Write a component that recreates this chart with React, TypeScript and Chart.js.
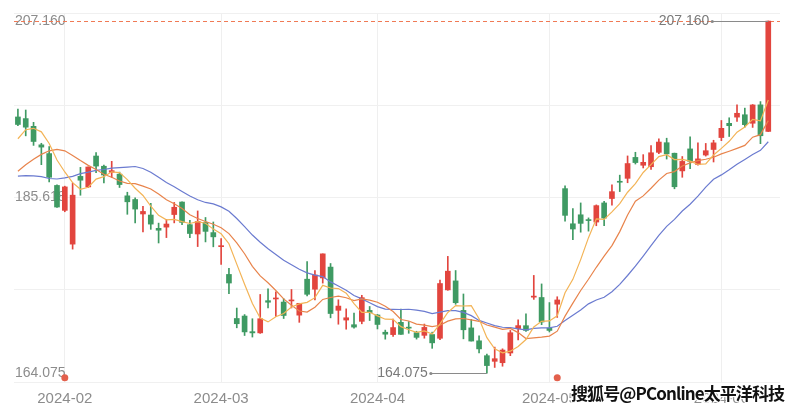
import React, { useEffect, useRef } from 'react';
import { Chart, registerables } from 'chart.js';

Chart.register(...registerables);

// ---- data (daily candles) ----
const dates = [
  '2024-01-24', '2024-01-25', '2024-01-26', '2024-01-29', '2024-01-30', '2024-01-31',
  '2024-02-01', '2024-02-02', '2024-02-05', '2024-02-06', '2024-02-07', '2024-02-08', '2024-02-09',
  '2024-02-12', '2024-02-13', '2024-02-14', '2024-02-15', '2024-02-16', '2024-02-20', '2024-02-21',
  '2024-02-22', '2024-02-23', '2024-02-26', '2024-02-27', '2024-02-28', '2024-02-29',
  '2024-03-01', '2024-03-04', '2024-03-05', '2024-03-06', '2024-03-07', '2024-03-08', '2024-03-11',
  '2024-03-12', '2024-03-13', '2024-03-14', '2024-03-15', '2024-03-18', '2024-03-19', '2024-03-20',
  '2024-03-21', '2024-03-22', '2024-03-25', '2024-03-26', '2024-03-27', '2024-03-28',
  '2024-04-01', '2024-04-02', '2024-04-03', '2024-04-04', '2024-04-05', '2024-04-08', '2024-04-09',
  '2024-04-10', '2024-04-11', '2024-04-12', '2024-04-15', '2024-04-16', '2024-04-17', '2024-04-18',
  '2024-04-19', '2024-04-22', '2024-04-23', '2024-04-24', '2024-04-25', '2024-04-26', '2024-04-29',
  '2024-04-30',
  '2024-05-01', '2024-05-02', '2024-05-03', '2024-05-06', '2024-05-07', '2024-05-08', '2024-05-09',
  '2024-05-10', '2024-05-13', '2024-05-14', '2024-05-15', '2024-05-16', '2024-05-17', '2024-05-20',
  '2024-05-21', '2024-05-22', '2024-05-23', '2024-05-24', '2024-05-28', '2024-05-29', '2024-05-30',
  '2024-05-31',
  '2024-06-03', '2024-06-04', '2024-06-05', '2024-06-06', '2024-06-07', '2024-06-10', '2024-06-11',
];

const opens = [
  195.42, 195.22, 194.27, 192.01, 190.94, 187.04,
  183.99, 179.86, 188.15, 186.86, 190.64, 189.39, 188.65,
  188.42, 185.77, 185.32, 183.55, 183.42, 181.79, 181.94,
  183.48, 185.01, 182.24, 181.10, 182.51, 181.27,
  179.55, 176.15, 170.76, 171.06, 169.15, 169.00, 172.94,
  173.15, 172.77, 172.91, 171.17, 175.57, 174.34, 175.72,
  177.05, 171.76, 170.57, 170.00, 170.41, 171.75,
  171.19, 169.08, 168.79, 170.29, 169.59, 169.03, 168.70,
  168.80, 168.34, 174.26, 175.36, 171.75, 169.61, 168.03,
  166.21, 165.52, 165.35, 166.54, 169.53, 169.88, 173.37,
  173.33,
  169.58, 172.51, 186.65, 182.35, 183.45, 182.85, 182.56,
  184.90, 185.44, 187.51, 187.91, 190.47, 189.51, 189.33,
  191.09, 192.27, 190.98, 188.82, 191.51, 189.61, 190.76,
  191.44,
  192.90, 194.64, 195.40, 195.69, 194.65, 196.90, 193.65,
];

const highs = [
  196.38, 196.27, 194.76, 192.20, 191.80, 187.10,
  186.95, 187.33, 189.25, 189.31, 191.05, 189.54, 189.99,
  188.67, 186.21, 185.53, 184.49, 184.85, 182.43, 182.89,
  184.96, 185.04, 182.76, 183.92, 183.12, 182.57,
  180.53, 176.90, 172.04, 171.24, 170.73, 173.70, 174.38,
  174.03, 173.19, 174.31, 172.62, 177.71, 176.61, 178.67,
  177.49, 173.05, 171.94, 171.42, 173.60, 172.23,
  171.25, 169.34, 170.68, 171.92, 170.39, 169.20, 170.08,
  169.09, 175.46, 178.36, 176.63, 173.76, 170.65, 168.64,
  166.40, 167.26, 167.05, 169.30, 170.61, 171.34, 176.03,
  174.99,
  172.71, 173.42, 187.00, 184.20, 184.90, 183.07, 184.66,
  185.09, 187.10, 188.30, 190.65, 191.10, 190.81, 191.92,
  192.73, 192.82, 191.00, 190.58, 193.00, 192.25, 192.18,
  192.57,
  194.99, 195.32, 196.90, 196.50, 196.94, 197.30, 207.16,
];

const lows = [
  194.34, 193.11, 191.94, 189.58, 187.47, 184.35,
  183.82, 179.25, 185.84, 186.77, 188.61, 187.35, 188.00,
  186.79, 183.51, 182.44, 181.35, 181.67, 180.00, 180.66,
  182.46, 182.23, 180.65, 179.56, 180.13, 179.53,
  177.38, 173.79, 169.62, 168.68, 168.49, 168.94, 172.05,
  171.01, 170.76, 172.05, 170.29, 173.52, 173.03, 175.09,
  170.84, 170.06, 169.45, 169.58, 170.11, 170.51,
  169.48, 168.23, 168.58, 168.82, 168.95, 168.24, 168.35,
  167.11, 168.16, 174.21, 172.50, 168.27, 168.00, 166.55,
  164.075, 164.77, 164.92, 166.21, 168.15, 169.18, 173.10,
  170.00,
  169.11, 170.89, 182.66, 180.42, 181.32, 181.45, 182.11,
  182.13, 184.62, 186.29, 187.37, 189.66, 189.18, 189.01,
  190.92, 190.27, 186.63, 188.04, 189.10, 189.51, 190.63,
  189.91,
  192.52, 193.03, 194.87, 194.17, 194.14, 192.15, 193.63,
];

const closes = [
  194.50, 194.17, 192.42, 191.73, 188.04, 184.40,
  186.86, 185.85, 187.68, 189.30, 189.41, 188.32, 188.85,
  187.15, 185.04, 184.15, 183.86, 182.31, 181.56, 182.32,
  184.37, 182.52, 181.16, 182.63, 181.42, 180.75,
  179.66, 175.10, 170.12, 169.12, 169.00, 170.73, 172.75,
  173.23, 171.13, 173.00, 172.62, 173.72, 176.08, 178.67,
  171.37, 172.28, 170.85, 169.71, 173.31, 171.48,
  170.03, 168.84, 169.65, 168.82, 169.58, 168.45, 169.67,
  167.78, 175.04, 176.55, 172.69, 169.38, 168.00, 167.04,
  165.00, 165.84, 166.90, 169.02, 169.89, 169.30, 173.50,
  170.33,
  169.30, 173.03, 183.38, 181.71, 182.40, 182.74, 184.57,
  183.05, 186.28, 187.43, 189.72, 189.84, 189.87, 191.04,
  192.35, 190.90, 186.88, 189.98, 189.99, 190.29, 191.29,
  192.25,
  194.03, 194.35, 195.87, 194.48, 196.89, 193.12, 207.15,
];

// closes of the 19 sessions before the first candle (warm-up for the averages)
const priorCloses = [
  193.05, 193.15, 193.58, 192.53, 185.64, 184.25, 181.91, 181.18, 185.56, 185.14,
  186.19, 185.59, 185.92, 183.63, 182.68, 188.63, 191.56, 193.89, 195.18,
];

const maPeriods = [5, 10, 20];
const eventDates = ['2024-02-01', '2024-05-02'];
const eventMarkValue = 163.5;
const axisLabelValues = [164.075, 185.6175, 207.16];

const Y_MIN = 162.99;
const Y_MAX = 208.14;

const UP = '#e2453e';
const DOWN = '#3f9a63';
const MA_COLORS = ['#f3b457', '#e8844c', '#6b7bd0'];

export default function App() {
  const ref = useRef<HTMLCanvasElement | null>(null);

  useEffect(() => {
    document.body.style.margin = '0';
    const canvas = ref.current;
    if (!canvas) return;

    const all = [...priorCloses, ...closes];
    const ma = (p: number) =>
      closes.map((_, i) => {
        const e = i + priorCloses.length;
        let s = 0;
        for (let k = e - p + 1; k <= e; k++) s += all[k];
        return s / p;
      });

    const colors = closes.map((c, i) => (c >= opens[i] ? UP : DOWN));
    const labels = [...dates, ''];
    const monthStarts = dates
      .map((d, i) => (i > 0 && d.slice(5, 7) !== dates[i - 1].slice(5, 7) ? i : -1))
      .filter((i) => i >= 0);

    const maxHigh = Math.max(...highs);
    const minLow = Math.min(...lows);
    const iMax = highs.indexOf(maxHigh);
    const iMin = lows.indexOf(minLow);

    const extremes = {
      id: 'extremes',
      beforeDatasetsDraw(chart: any) {
        const { ctx, chartArea: a, scales } = chart;
        const yy = Math.round(scales.y.getPixelForValue(maxHigh)) + 0.5;
        ctx.save();
        ctx.strokeStyle = '#f07a55';
        ctx.lineWidth = 1;
        ctx.setLineDash([4, 3]);
        ctx.beginPath();
        ctx.moveTo(a.left, yy);
        ctx.lineTo(a.right, yy);
        ctx.stroke();
        ctx.restore();
      },
      afterDatasetsDraw(chart: any) {
        const { ctx, scales } = chart;
        const mark = (idx: number, val: number) => {
          const px = scales.x.getPixelForValue(idx);
          const py = Math.round(scales.y.getPixelForValue(val)) + 0.5;
          const sx = px - 56;
          ctx.save();
          ctx.strokeStyle = '#8a8a8a';
          ctx.fillStyle = '#8a8a8a';
          ctx.lineWidth = 1;
          ctx.beginPath();
          ctx.moveTo(sx, py);
          ctx.lineTo(px, py);
          ctx.stroke();
          ctx.beginPath();
          ctx.arc(sx, py, 1.6, 0, Math.PI * 2);
          ctx.fill();
          ctx.fillStyle = '#7a7a7a';
          ctx.font = '14px Arial, "Liberation Sans", sans-serif';
          ctx.textAlign = 'right';
          ctx.textBaseline = 'middle';
          ctx.fillText(val.toFixed(3), sx - 3, py);
          ctx.restore();
        };
        mark(iMax, maxHigh);
        mark(iMin, minLow);
      },
    };

    const chart = new Chart(canvas, {
      type: 'bar',
      data: {
        labels,
        datasets: [
          ...maPeriods.map((p, k) => ({
            type: 'line' as const,
            data: ma(p),
            borderColor: MA_COLORS[k],
            borderWidth: 1.2,
            pointRadius: 0,
            tension: 0,
            fill: false,
            order: 0,
          })),
          {
            type: 'line' as const,
            data: dates.map((d) => (eventDates.includes(d) ? eventMarkValue : null)),
            showLine: false,
            pointRadius: 3.5,
            pointBackgroundColor: '#e3604c',
            pointBorderWidth: 0,
            order: 0,
          },
          {
            type: 'bar' as const,
            data: opens.map((o, i) => [o, closes[i]]),
            backgroundColor: colors,
            barThickness: 5,
            minBarLength: 1,
            grouped: false,
            order: 1,
          },
          {
            type: 'bar' as const,
            data: lows.map((l, i) => [l, highs[i]]),
            backgroundColor: colors,
            barThickness: 1,
            grouped: false,
            order: 2,
          },
        ] as any,
      },
      options: {
        animation: false,
        responsive: false,
        layout: { padding: { left: 12, right: 20, top: 13, bottom: -5 } },
        plugins: { legend: { display: false }, tooltip: { enabled: false } },
        scales: {
          x: {
            type: 'category',
            offset: true,
            grid: {
              offset: false,
              drawTicks: false,
              color: (c: any) => (monthStarts.includes(c.index) ? '#efefef' : 'rgba(0,0,0,0)'),
            },
            border: { display: false },
            ticks: {
              autoSkip: false,
              maxRotation: 0,
              padding: 8,
              color: '#8c8c8c',
              font: { size: 15, family: 'Arial, "Liberation Sans", sans-serif' },
              callback: (_v: any, i: number) => (monthStarts.includes(i) ? dates[i].slice(0, 7) : ''),
            },
          },
          y: {
            type: 'linear',
            position: 'left',
            min: Y_MIN,
            max: Y_MAX,
            afterBuildTicks: (s: any) => {
              s.ticks = [0, 1, 2, 3, 4].map((k) => ({ value: Y_MIN + ((Y_MAX - Y_MIN) * k) / 4 }));
            },
            grid: { color: '#f0f0f0', drawTicks: false },
            border: { display: false },
            ticks: { display: false },
          },
          y2: {
            type: 'linear',
            position: 'left',
            min: Y_MIN,
            max: Y_MAX,
            afterBuildTicks: (s: any) => {
              s.ticks = axisLabelValues.map((v) => ({ value: v }));
            },
            grid: { display: false, drawTicks: false },
            border: { display: false },
            ticks: {
              mirror: true,
              padding: 1,
              color: '#8c8c8c',
              font: { size: 14, family: 'Arial, "Liberation Sans", sans-serif' },
              callback: (v: any) => Number(v).toFixed(3),
            },
          },
        },
      } as any,
      plugins: [extremes],
    });

    return () => chart.destroy();
  }, []);

  return (
    <div style={{ position: 'relative', width: 800, height: 411, background: '#fff' }}>
      <canvas ref={ref} width={800} height={411} style={{ display: 'block', width: 800, height: 411 }} />
      <div
        style={{
          position: 'absolute',
          left: 571,
          top: 381,
          fontFamily: '"Noto Sans CJK SC", sans-serif',
          fontSize: 17,
          fontWeight: 700,
          color: '#111',
          whiteSpace: 'nowrap',
          lineHeight: '24px',
          letterSpacing: '-0.9px',
          textShadow:
            '1px 1px 0 #fff, -1px -1px 0 #fff, 1px -1px 0 #fff, -1px 1px 0 #fff, 0 0 3px #fff',
        }}
      >
        搜狐号@PConline太平洋科技
      </div>
    </div>
  );
}
